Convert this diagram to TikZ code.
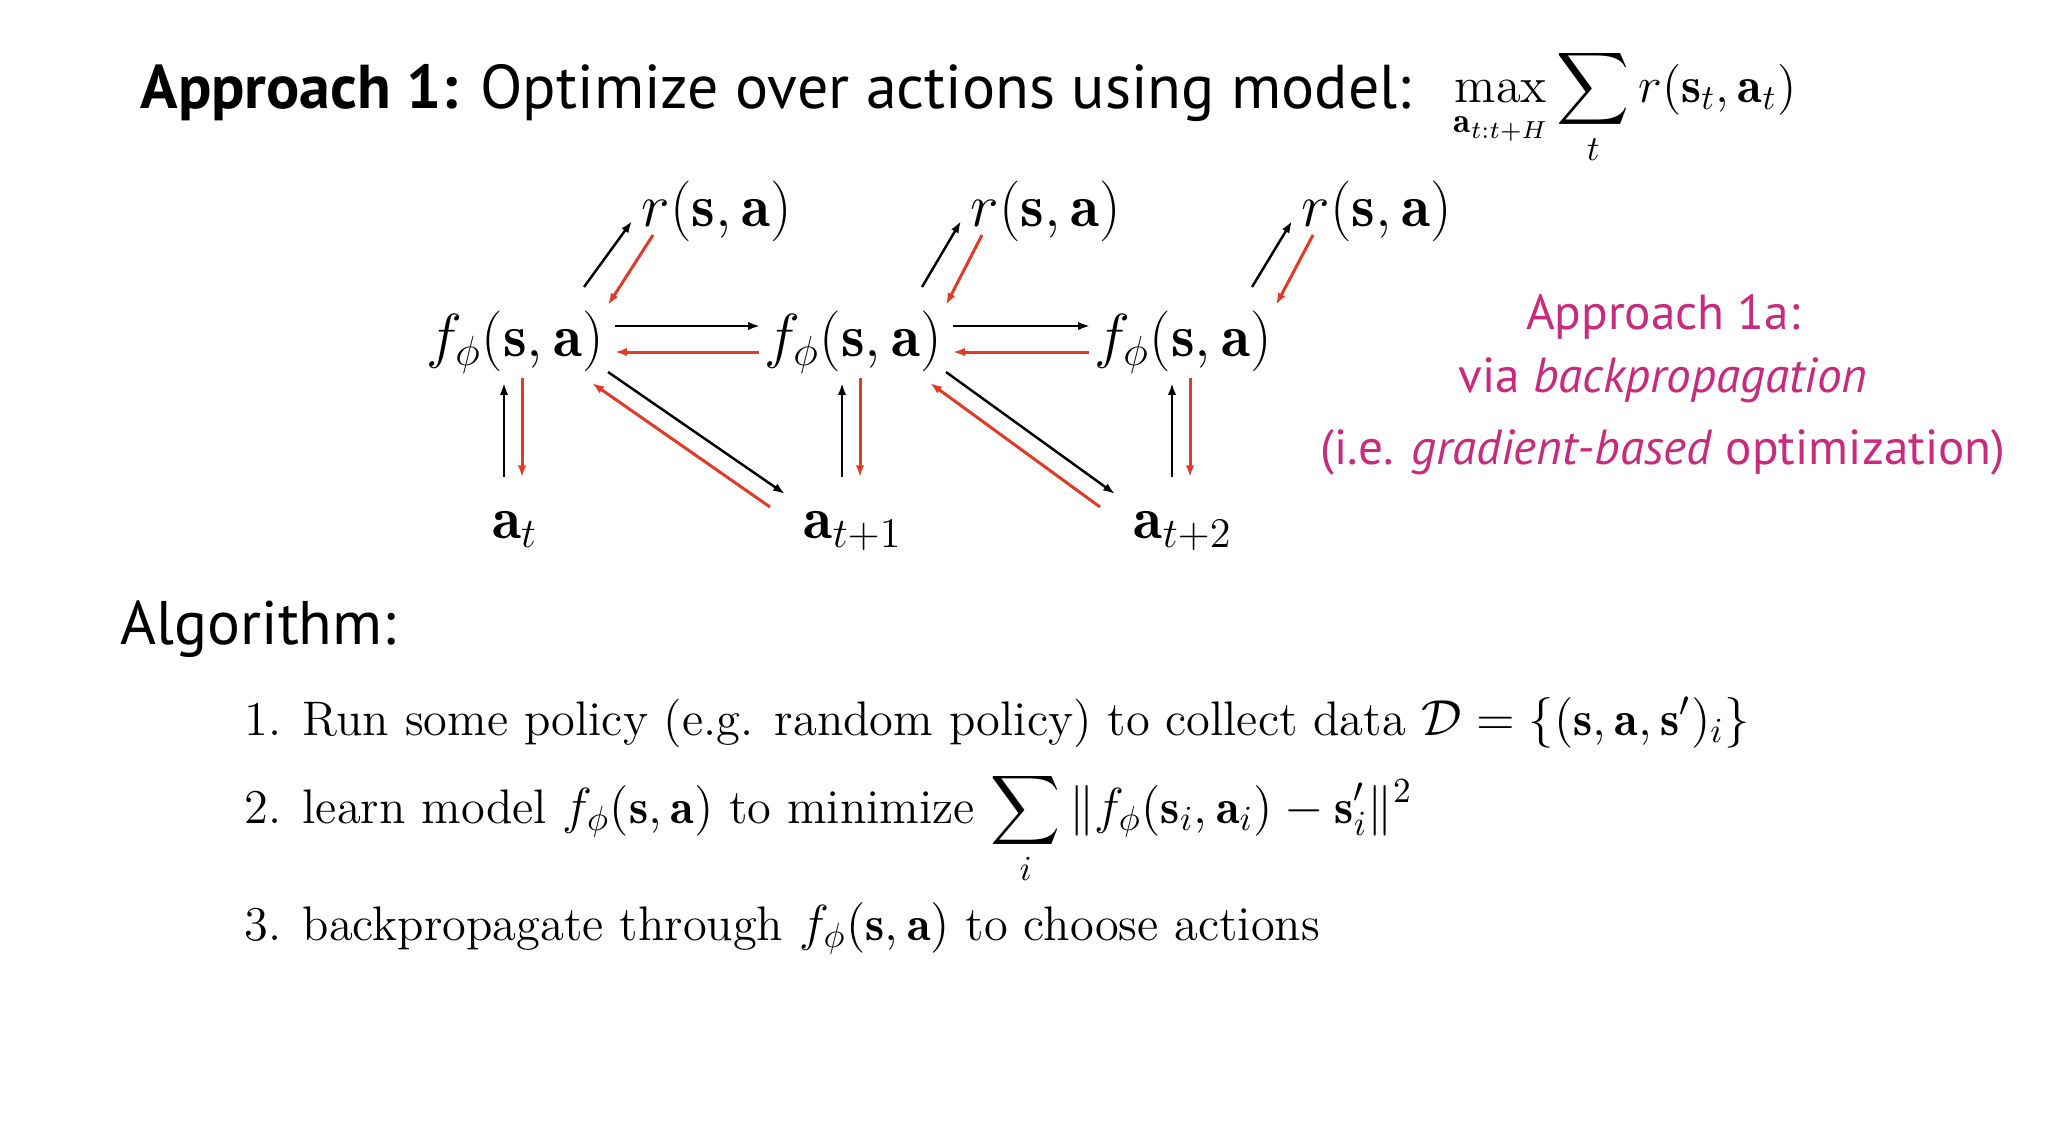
\documentclass[tikz,border=0pt]{standalone}
\usepackage{amsmath,amssymb}
\usepackage{fontspec}
\usepackage{tikz}
\usetikzlibrary{arrows.meta, positioning, calc}
\newfontfamily\headfont{PT Sans}
\definecolor{GradRed}{RGB}{226,58,38}
\definecolor{NoteMagenta}{RGB}{200,42,125}

\begin{document}
\begin{tikzpicture}[x=0.01cm,y=-0.01cm,
    head/.style={font=\headfont\fontsize{17.6}{21}\selectfont,inner sep=0pt},
    note/.style={font=\headfont\fontsize{14}{17}\selectfont,text=NoteMagenta,inner sep=0pt,anchor=base},
    fn/.style={font=\fontsize{17}{20}\selectfont,inner sep=0pt},
    stepline/.style={font=\fontsize{13.8}{17}\selectfont,inner sep=0pt,anchor=base west},
    fwd/.style={-{Latex[length=3.4pt,width=2.4pt]},line width=0.7pt,black},
    bwd/.style={-{Latex[length=3.4pt,width=2.4pt]},line width=0.85pt,GradRed}
  ]
  \useasboundingbox (0,0) rectangle (2048,1147);

  \node[head,anchor=base west] (title) at (140,108)
    {\textbf{Approach 1:} Optimize over actions using model:};
  \node[inner sep=0pt,anchor=base west,font=\fontsize{14.4}{17}\selectfont] (obj) at (1453,102)
    {$\displaystyle\max_{\mathbf{a}_{t:t+H}}\sum_t r(\mathbf{s}_t,\mathbf{a}_t)$};

  % model chain
  \foreach \i/\x/\rx/\lab in {1/515/717/t, 2/853/1046/t+1, 3/1183/1377/t+2} {
    \node[fn] (f\i) at (\x,342) {$f_\phi(\mathbf{s},\mathbf{a})$};
    \node[fn] (r\i) at (\rx,211) {$r(\mathbf{s},\mathbf{a})$};
    \node[fn,anchor=base] (a\i) at (\x,538) {$\mathbf{a}_{\lab}$};
    \draw[fwd] ($(f\i)+(69,-55)$) -- ($(r\i)+(-85,10)$);
    \draw[bwd] ($(r\i)+(-64,24)$) -- ($(f\i)+(93,-37)$);
    \draw[fwd] ($(a\i.north -| f\i)+(-11,-33)$) -- ($(f\i)+(-11,41)$);
    \draw[bwd] ($(f\i)+(7,36)$) -- ($(a\i.north -| f\i)+(7,-33)$);
  }
  \foreach \i/\j in {1/2, 2/3} {
    \draw[fwd] ($(f\i)+(100,-16)$) -- ($(f\j)+(-93,-16)$);
    \draw[bwd] ($(f\j)+(-94,10)$) -- ($(f\i)+(100,10)$);
    \draw[fwd] ($(f\i)+(93,30)$) -- ($(f\j)+(-68,152)$);
    \draw[bwd] ($(f\j)+(-83,165)$) -- ($(f\i)+(77,41)$);
  }

  \node[note] (n1) at (1663,329) {Approach 1a:};
  \node[note] (n2) at (1663,392) {via \textit{backpropagation}};
  \node[note] (n3) at (1663,464) {(i.e. \textit{gradient-based} optimization)};

  \node[head,font=\headfont\fontsize{17.5}{21}\selectfont,anchor=base west] (algo) at (120,644) {Algorithm:};
  \node[stepline] (s1) at (244,735)
    {1. Run some policy (e.g. random policy) to collect data $\mathcal{D}=\{(\mathbf{s},\mathbf{a},\mathbf{s}')_i\}$};
  \node[stepline] (s2) at (244,823)
    {2. learn model $f_\phi(\mathbf{s},\mathbf{a})$ to minimize $\displaystyle\sum_i \|f_\phi(\mathbf{s}_i,\mathbf{a}_i)-\mathbf{s}'_i\|^2$};
  \node[stepline] (s3) at (244,940)
    {3. backpropagate through $f_\phi(\mathbf{s},\mathbf{a})$ to choose actions};
\end{tikzpicture}
\end{document}
